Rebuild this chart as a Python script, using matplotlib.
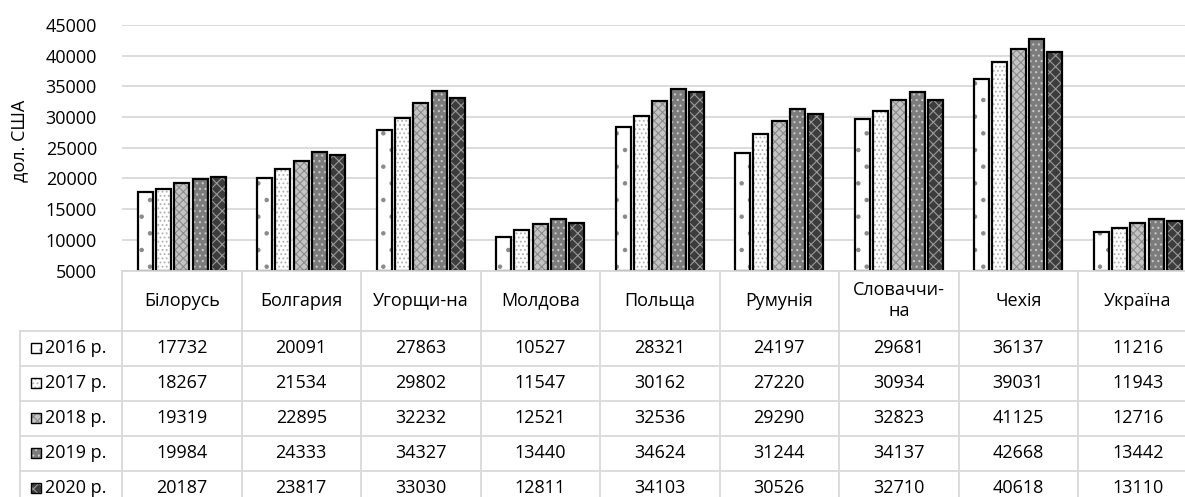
import matplotlib
matplotlib.use("Agg")
import matplotlib.pyplot as plt
import numpy as np

plt.rcParams["font.family"] = ["Open Sans", "DejaVu Sans"]
plt.rcParams["hatch.linewidth"] = 0.8

CATEGORIES = ["Білорусь", "Болгария", "Угорщи-на", "Молдова", "Польща",
              "Румунія", "Словаччи-\nна", "Чехія", "Україна"]
YEARS = ["2016 р.", "2017 р.", "2018 р.", "2019 р.", "2020 р."]
V2016 = [17732, 20091, 27863, 10527, 28321, 24197, 29681, 36137, 11216]
V2017 = [18267, 21534, 29802, 11547, 30162, 27220, 30934, 39031, 11943]
V2018 = [19319, 22895, 32232, 12521, 32536, 29290, 32823, 41125, 12716]
V2019 = [19984, 24333, 34327, 13440, 34624, 31244, 34137, 42668, 13442]
V2020 = [20187, 23817, 33030, 12811, 34103, 30526, 32710, 40618, 13110]
SERIES = [V2016, V2017, V2018, V2019, V2020]

# face colour, hatch, hatch colour per year
STYLES = [
    ("#ffffff", ".", "#8a8a8a"),
    ("#ffffff", "....", "#b0b0b0"),
    ("#c4c4c4", "xxxx", "#8c8c8c"),
    ("#7c7c7c", "...", "#c8c8c8"),
    ("#3c3c3c", "xxx", "#9a9a9a"),
]

W, H = 1185, 497
fig = plt.figure(figsize=(W / 100, H / 100), dpi=100)

# pixel geometry
x0, col_w = 122, 119.5
y_bottom, y_top = 270.5, 25
row_h = 35.1
label_left = 20
grid_col = "#d9d9d9"
fs = 13

ax = fig.add_axes([x0 / W, (H - y_bottom) / H, 9 * col_w / W, (y_bottom - y_top) / H])
ax.set_xlim(0, 9)
ax.set_ylim(5000, 45000)
ax.set_yticks(np.arange(5000, 45001, 5000))
ax.yaxis.grid(True, color=grid_col, linewidth=1.3)
ax.set_axisbelow(True)
for s in ax.spines.values():
    s.set_visible(False)
ax.tick_params(axis="y", length=0, pad=18, labelsize=fs)
ax.set_xticks([])
ax.set_ylabel("дол. США", fontsize=fs)
ax.yaxis.set_label_coords(-0.087, 0.53)

pitch, bw = 0.153, 0.125
idx = np.arange(len(CATEGORIES)) + 0.5
for i, (vals, (fc, hatch, hc)) in enumerate(zip(SERIES, STYLES)):
    pos = idx + (i - 2) * pitch
    h = np.array(vals) - 5000
    ax.bar(pos, h, bw, bottom=5000, color=fc, hatch=hatch, edgecolor=hc, linewidth=0)
    ax.bar(pos, h, bw, bottom=5000, fill=False, edgecolor="black", linewidth=1.6)

# table drawn in pixel coordinates
tb = fig.add_axes([0, 0, 1, 1])
tb.set_xlim(0, W)
tb.set_ylim(H, 0)
tb.axis("off")
x_right = x0 + 9 * col_w
tb.plot([x0, x_right], [y_bottom, y_bottom], color=grid_col, lw=1.3)
for k in range(10):
    xk = x0 + k * col_w
    tb.plot([xk, xk], [y_bottom, H], color=grid_col, lw=1.3)
tb.plot([label_left, label_left], [y_bottom + 60, H], color=grid_col, lw=1.3)
header_bottom = y_bottom + 60
for r in range(len(YEARS)):
    yr = header_bottom + r * row_h
    tb.plot([label_left, x_right], [yr, yr], color=grid_col, lw=1.3)

for k, cat in enumerate(CATEGORIES):
    tb.text(x0 + (k + 0.5) * col_w, y_bottom + 30, cat, ha="center", va="center",
            fontsize=fs, linespacing=1.2)

for r, (year, vals, (fc, hatch, hc)) in enumerate(zip(YEARS, SERIES, STYLES)):
    yc = header_bottom + (r + 0.5) * row_h
    tb.add_patch(plt.Rectangle((31, yc - 5), 10, 10, facecolor=fc, hatch=hatch,
                               edgecolor=hc, linewidth=0))
    tb.add_patch(plt.Rectangle((31, yc - 5), 10, 10, fill=False, edgecolor="black",
                               linewidth=1.0))
    tb.text(45, yc, year, ha="left", va="center", fontsize=fs)
    for k, v in enumerate(vals):
        tb.text(x0 + (k + 0.5) * col_w, yc, str(v), ha="center", va="center", fontsize=fs)

fig.savefig("out.png", dpi=100)
